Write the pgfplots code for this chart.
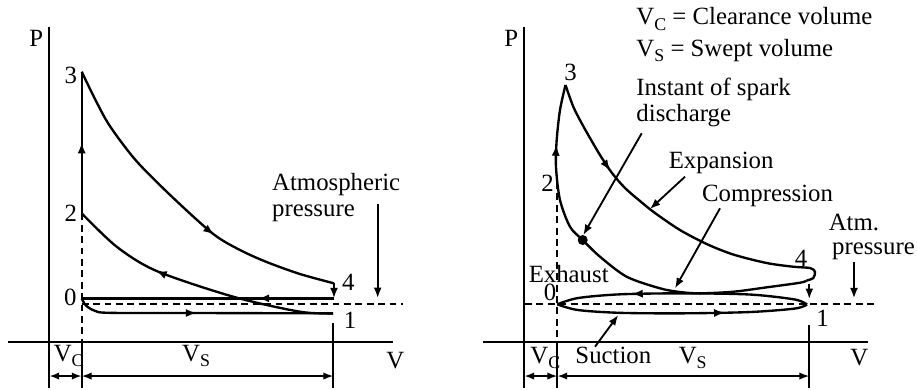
\documentclass[border=0pt]{standalone}
\usepackage{pgfplots}
\pgfplotsset{compat=1.18}
\usepackage{fontspec}
\setmainfont{Liberation Serif}
\usetikzlibrary{arrows.meta,decorations.markings}
\tikzset{
  ln/.style={line width=0.95pt, black},
  thn/.style={line width=0.75pt, black},
  dsh/.style={line width=0.7pt, black, dash pattern=on 2.8pt off 1.8pt},
  tip/.style={-{Latex[length=4.2pt,width=3.2pt]}},
  dtip/.style={{Latex[length=4pt,width=3pt]}-{Latex[length=4pt,width=3pt]}},
  marr/.style={postaction={decorate},decoration={markings, mark=at position #1 with {\arrow{Latex[length=4.4pt,width=3.3pt]}}}},
  lbl/.style={inner sep=0pt, anchor=base west, font=\fontsize{10}{12}\selectfont},
  lble/.style={inner sep=0pt, anchor=base east, font=\fontsize{10}{12}\selectfont},
}
\newcommand{\sub}[1]{\raisebox{-0.45ex}{\fontsize{7.2}{8}\selectfont #1}}
\begin{document}
\begin{tikzpicture}
\begin{axis}[
  width=370pt, height=156.98pt, scale only axis,
  xmin=0, xmax=917, ymin=0, ymax=389, y dir=reverse,
  hide axis, clip=false,
]
% ---------------- left panel ----------------
\addplot[ln] coordinates {(49.3,27) (49.3,388)};
\addplot[ln] coordinates {(8,341.7) (393,341.7)};
\addplot[dsh] coordinates {(81.7,213.3) (81.7,341.7)};
\addplot[thn] coordinates {(81.7,341.7) (81.7,388)};
\addplot[thn] coordinates {(333.3,323) (333.3,388)};
\addplot[thn,dtip] coordinates {(49.3,376) (81.7,376)};
\addplot[thn,dtip] coordinates {(81.7,376) (333.3,376)};
\addplot[dsh] coordinates {(81.7,304) (403,304)};
% 2 -> 3
\addplot[ln,marr=0.5] coordinates {(81.7,213.3) (81.7,71.7)};
% expansion 3 -> 4
\addplot[ln,smooth,marr=0.62] coordinates {(81.7,71.7) (93,95) (106.7,121) (122,143) (140,165) (173.3,198) (213.3,234) (240,250) (266.7,262) (300,274) (334,283.3)};
% 4 -> down
\addplot[ln,tip] coordinates {(334,283.3) (334,298.3)};
% exhaust
\addplot[ln,marr=0.3] coordinates {(334,298.3) (81.7,298.3)};
% suction
\addplot[ln,smooth,marr=0.47] coordinates {(81.7,298.3) (86,305.5) (95,310.8) (110,312.8) (200,313) (333,313.3)};
% compression 1 -> 2
\addplot[ln,smooth,marr=0.66] coordinates {(333,313.3) (300,311.7) (233.3,296.7) (156.7,271) (116.7,246.7) (81.7,213.3)};
% atmospheric arrow
\addplot[thn,tip] coordinates {(377.7,204) (377.7,298)};
\node[lbl] at (29,46.7) {P};
\node[lble] at (77.5,83.3) {3};
\node[lble] at (77.5,221.7) {2};
\node[lble] at (77,305) {0};
\node[lbl] at (341.7,290) {4};
\node[lbl] at (343.3,328.3) {1};
\node[lbl] at (271.7,190.7) {Atmospheric};
\node[lbl] at (271.7,216.7) {pressure};
\node[lbl] at (53.3,361.7) {V\sub{C}};
\node[lbl] at (181.7,361.7) {V\sub{S}};
\node[lbl] at (386,368.3) {V};
% ---------------- right panel ----------------
\addplot[ln] coordinates {(524.3,27) (524.3,388)};
\addplot[ln] coordinates {(483.3,341.7) (868.3,341.7)};
\addplot[dsh] coordinates {(557.3,182) (557.3,341.7)};
\addplot[thn] coordinates {(557.3,341.7) (557.3,388)};
\addplot[thn] coordinates {(809.3,325) (809.3,388)};
\addplot[thn,dtip] coordinates {(524.3,376) (557.3,376)};
\addplot[thn,dtip] coordinates {(557.3,376) (809.3,376)};
\addplot[dsh] coordinates {(525,304.3) (878,304.3)};
% exhaust (upper half of loop)
\addplot[ln,smooth,marr=0.7] coordinates {(807,304.5) (795,299.5) (750,294.5) (683,293.3) (620,294.3) (578,298) (557.3,304.3)};
% suction (lower half of loop)
\addplot[ln,smooth,marr=0.67] coordinates {(557.3,304.3) (578,310) (620,312.8) (683,313.3) (750,312) (795,308.5) (807,304.5)};
% expansion 3 -> 4 with release loop
\addplot[ln,smooth,marr=0.28] coordinates {(565.5,85) (573,106) (581,122) (590,138) (600,155) (612,173) (625,188) (640,201) (655,213) (680,230) (706.7,244) (733.3,254.5) (766.7,263) (793.3,266.7) (810,268) (815,271.7) (813.3,278) (806.7,280.5)};
% compression and combustion
\addplot[ln,smooth,marr=0.85] coordinates {(806.7,280.5) (800,282.7) (766.7,287.3) (733.3,291.7) (700,293.3) (680,292) (660,288.3) (626.7,276.7) (600,256.7) (582.7,240) (570,226.7) (560,200) (556,167) (556.7,140) (560,110) (565.5,85)};
% release arrow at 1
\addplot[thn,tip] coordinates {(809.3,283.5) (809.3,299)};
% atm arrow
\addplot[thn,tip] coordinates {(854,261.7) (854,298.3)};
% spark point
\addplot[only marks, mark=*, mark size=1.8pt, black] coordinates {(582.7,240)};
% annotation arrows
\addplot[thn,tip] coordinates {(641.7,133.3) (583.3,235)};
\addplot[thn,tip] coordinates {(685,176.7) (650,209)};
\addplot[thn,tip] coordinates {(720,208.3) (675,288.3)};
\addplot[thn,tip] coordinates {(595,346.7) (618.3,315)};
\node[lbl] at (636,25) {V\sub{C} = Clearance volume};
\node[lbl] at (636,56.7) {V\sub{S} = Swept volume};
\node[lbl] at (636,95) {Instant of spark};
\node[lbl] at (636,121.7) {discharge};
\node[lbl] at (504,46.7) {P};
\node[lbl] at (564,80) {3};
\node[lbl] at (541,191.7) {2};
\node[lbl] at (668.3,168.3) {Expansion};
\node[lbl] at (701.7,201.7) {Compression};
\node[lbl] at (828.3,230.7) {Atm.};
\node[lbl] at (831.7,254) {pressure};
\node[lbl] at (794.3,266.7) {4};
\node[lbl] at (528.3,282.7) {Exhaust};
\node[lbl] at (543.3,300) {0};
\node[lbl] at (816,326.7) {1};
\node[lbl] at (575,363.3) {Suction};
\node[lbl] at (678.3,363.3) {V\sub{S}};
\node[lbl] at (530,363.3) {V\sub{C}};
\node[lbl] at (850,365) {V};
\end{axis}
\pgfresetboundingbox
\path (0,0) rectangle (370pt,156.98pt);
\end{tikzpicture}
\end{document}
